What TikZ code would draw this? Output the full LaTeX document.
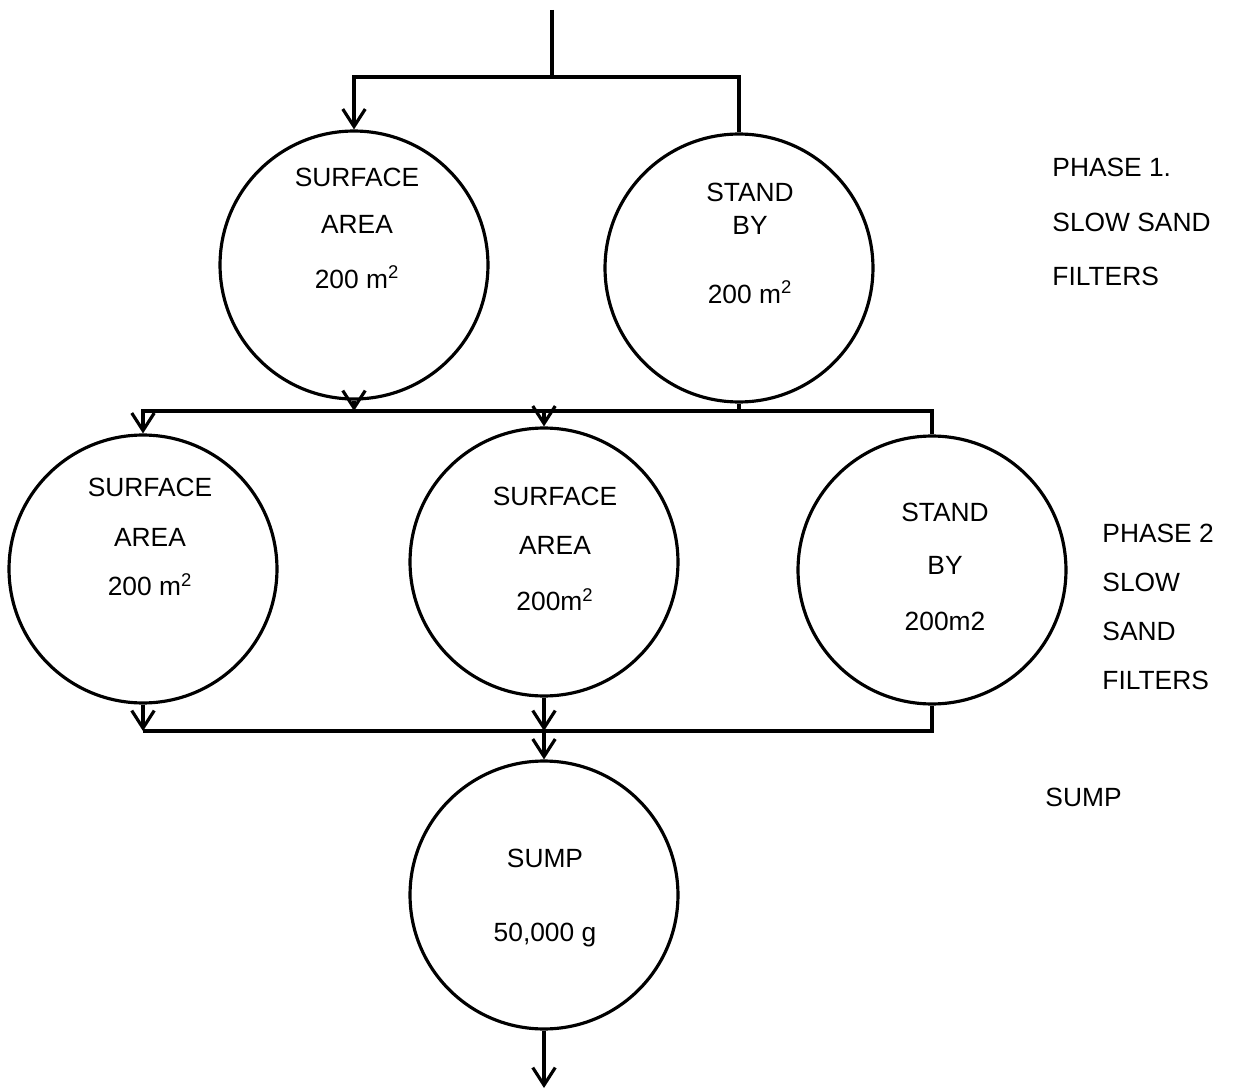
\documentclass[tikz,border=0pt]{standalone}
\usepackage{fontspec}
\setmainfont{Liberation Sans}
\usetikzlibrary{arrows.meta}

\begin{document}
\begin{tikzpicture}[x=0.02cm, y=-0.02cm,
						line width=1.8pt,
						>={Straight Barb[length=3.5mm,width=4.5mm]},
						tank/.style={circle, draw, minimum size=5.36cm, inner sep=0pt},
						lbl/.style={font=\fontsize{15}{28}\selectfont, align=center},
						side/.style={font=\fontsize{15}{28}\selectfont, align=left, anchor=west}]

		\useasboundingbox (0,0) rectangle (1238,1091);

		\node[tank] (c1) at (354,265) {};
		\node[tank] (c2) at (739,268) {};
		\node[tank] (c3) at (143,569) {};
		\node[tank] (c4) at (544,562) {};
		\node[tank] (c5) at (932,570) {};
		\node[tank] (sump) at (544,895) {};

		\node[lbl] (t1) at (357,228) {SURFACE\\[-1pt]AREA\\[3pt]200 m\textsuperscript{2}};
		\node[lbl] (t2) at (750,243) {STAND\\[-9pt]BY\\[11pt]200 m\textsuperscript{2}};
		\node[lbl] (t3) at (150,537) {SURFACE\\AREA\\200 m\textsuperscript{2}};
		\node[lbl] (t4) at (555,549) {SURFACE\\AREA\\[4pt]200m\textsuperscript{2}};
		\node[lbl] (t5) at (945,567) {STAND\\[2pt]BY\\[4pt]200m2};
		\node[lbl] (t6) at (545,898) {SUMP\\[14pt]50,000 g};

		\node[side] (p1) at (1045,222) {PHASE 1.\\[3pt]SLOW SAND\\[3pt]FILTERS};
		\node[side] (p2) at (1095,607) {PHASE 2\\SLOW\\SAND\\FILTERS};
		\node[side] (p3) at (1038,797) {SUMP};

		\coordinate (in) at (552,10);
		\coordinate (j1) at (552,77);
		\coordinate (b2) at (544,411);
		\coordinate (b3) at (544,731);
		\coordinate (out) at (544,1088);

		\draw (in) -- (j1);
		\draw[->] (j1) -| (c1.north);
		\draw (j1) -| (c2.north);

		\draw[->] (c1.south) -- (c1.south |- b2);
		\draw (c2.south) -- (c2.south |- b2);
		\draw[->] (b2) -| (c3.north);
		\draw[->] (b2) -- (c4.north);
		\draw (b2) -| (c5.north);

		\draw[->] (c3.south) -- (c3.south |- b3);
		\draw (c3.south |- b3) -- (b3) -| (c5.south);
		\draw[->] (c4.south) -- (b3);
		\draw[->] (b3) -- (sump.north);
		\draw[->] (sump.south) -- (out);

	\end{tikzpicture}
\end{document}
